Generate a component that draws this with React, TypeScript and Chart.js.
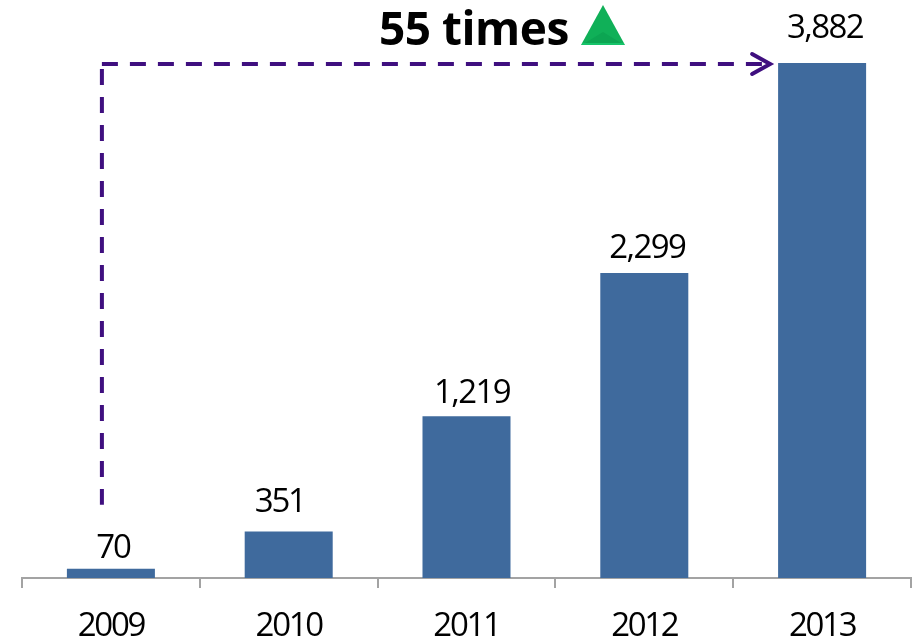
import React, { useEffect, useRef } from "react";
import { Chart, registerables } from "chart.js";

Chart.register(...registerables);

const years = ["2009", "2010", "2011", "2012", "2013"];
const revenue = [70, 351, 1219, 2299, 3882];
const growthLabel = "55 times";
const FONT = '"Open Sans", sans-serif';
const DIGIT_SPACING = "-2.3px";
const GROUPED_DIGIT_SPACING = "-1.6px";

// Hand placement of the value labels relative to the top centre of each bar
const labelLift = [11, 19, 13, 15, 25];
const labelShift = [2, -9, 5.5, 3, 3];

const valueLabels = {
  id: "valueLabels",
  afterDatasetsDraw(chart: any) {
    const { ctx } = chart;
    const meta = chart.getDatasetMeta(0);
    ctx.save();
    ctx.font = `33px ${FONT}`;
    ctx.fillStyle = "#000";
    ctx.textAlign = "center";
    ctx.textBaseline = "alphabetic";
    meta.data.forEach((bar: any, i: number) => {
      const text = revenue[i].toLocaleString("en-US");
      (ctx as any).letterSpacing = text.includes(",") ? GROUPED_DIGIT_SPACING : DIGIT_SPACING;
      ctx.fillText(text, bar.x + labelShift[i], bar.y - labelLift[i]);
    });
    ctx.restore();
  },
};

const growthArrow = {
  id: "growthArrow",
  afterDatasetsDraw(chart: any) {
    const { ctx, scales } = chart;
    const meta = chart.getDatasetMeta(0);
    const first = meta.data[0];
    const last = meta.data[meta.data.length - 1];
    const top = scales.y.getPixelForValue(revenue[revenue.length - 1]);
    const startX = first.x - 9;
    const endX = last.x - 51;

    ctx.save();
    ctx.strokeStyle = "#3f0f7f";
    ctx.lineWidth = 4;
    ctx.setLineDash([16, 12]);
    ctx.beginPath();
    ctx.moveTo(startX, top + 1);
    ctx.lineTo(endX - 2, top + 1);
    ctx.stroke();
    ctx.beginPath();
    ctx.moveTo(startX, top + 6);
    ctx.lineTo(startX, first.y - 64);
    ctx.stroke();

    ctx.setLineDash([]);
    ctx.lineWidth = 4;
    ctx.lineCap = "round";
    ctx.lineJoin = "miter";
    ctx.beginPath();
    ctx.moveTo(endX - 19, top - 9);
    ctx.lineTo(endX - 1, top + 1);
    ctx.lineTo(endX - 19, top + 11);
    ctx.stroke();

    // Headline above the arrow, followed by the green up marker
    ctx.font = `bold 46px ${FONT}`;
    ctx.fillStyle = "#000";
    ctx.textAlign = "left";
    ctx.textBaseline = "alphabetic";
    (ctx as any).letterSpacing = "-0.5px";
    ctx.fillText(growthLabel, 379, top - 18);
    (ctx as any).letterSpacing = "0px";

    ctx.fillStyle = "#10b058";
    ctx.beginPath();
    ctx.moveTo(603, 5);
    ctx.lineTo(625, 45);
    ctx.lineTo(581, 45);
    ctx.closePath();
    ctx.fill();
    // Lower bevel of the marker
    ctx.fillStyle = "#0ca552";
    ctx.beginPath();
    ctx.moveTo(603, 32);
    ctx.lineTo(621, 43);
    ctx.lineTo(585, 43);
    ctx.closePath();
    ctx.fill();
    ctx.fillStyle = "#16c46a";
    ctx.fillRect(582, 43, 42, 2);
    ctx.restore();
  },
};

export default function App() {
  const canvasRef = useRef<HTMLCanvasElement>(null);

  useEffect(() => {
    document.body.style.margin = "0";
    const chart = new Chart(canvasRef.current!, {
      type: "bar",
      data: {
        labels: years,
        datasets: [
          {
            data: revenue,
            backgroundColor: "#3f6a9d",
            categoryPercentage: 1,
            barPercentage: 0.495,
          },
        ],
      },
      options: {
        animation: false,
        responsive: false,
        layout: { padding: { left: 22, right: 2, top: 0, bottom: 0 } },
        plugins: { legend: { display: false }, tooltip: { enabled: false } },
        scales: {
          x: {
            offset: true,
            afterFit(scale: any) {
              scale.height = 63;
            },
            border: { color: "#a3a3a3", width: 2 },
            grid: {
              offset: true,
              drawOnChartArea: false,
              color: "#a3a3a3",
              lineWidth: 2,
              tickLength: 10,
            },
            ticks: {
              color: "#000",
              padding: 19,
              maxRotation: 0,
              font: { family: FONT, size: 33 },
            },
          },
          y: { display: false, min: 0, max: 4357 },
        },
      },
      plugins: [
        {
          id: "tightDigits",
          beforeDraw(c: any) {
            (c.ctx as any).letterSpacing = DIGIT_SPACING;
          },
        },
        valueLabels,
        growthArrow,
      ],
    } as any);
    return () => chart.destroy();
  }, []);

  return <canvas ref={canvasRef} width={913} height={641} style={{ display: "block" }} />;
}
